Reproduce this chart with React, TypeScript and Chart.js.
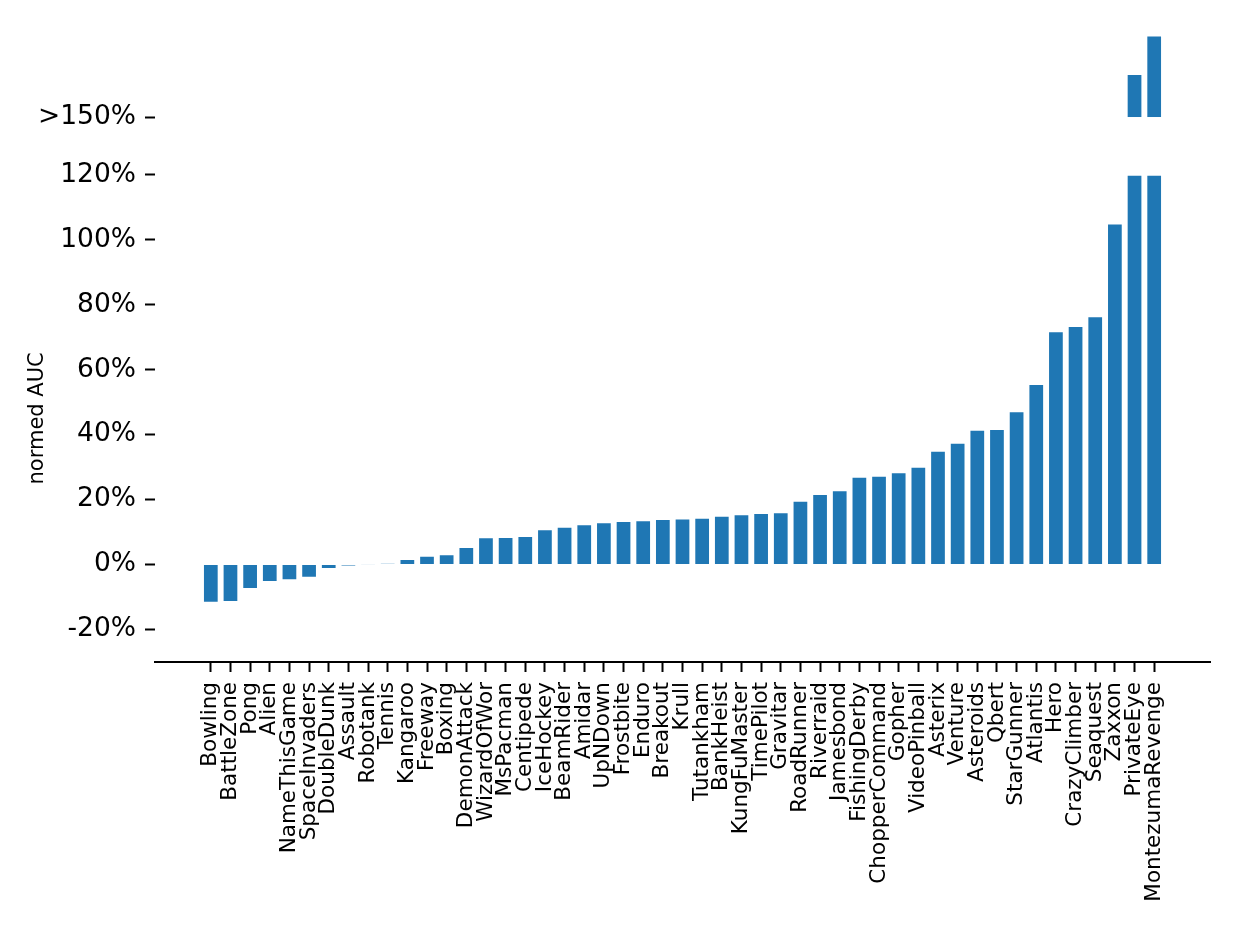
import React, { useEffect, useRef } from "react";
import { Chart, registerables } from "chart.js";

Chart.register(...registerables);

// ---- data ----
const categories: string[] = [
  "Bowling", "BattleZone", "Pong", "Alien", "NameThisGame", "SpaceInvaders",
  "DoubleDunk", "Assault", "Robotank", "Tennis", "Kangaroo", "Freeway",
  "Boxing", "DemonAttack", "WizardOfWor", "MsPacman", "Centipede", "IceHockey",
  "BeamRider", "Amidar", "UpNDown", "Frostbite", "Enduro", "Breakout", "Krull",
  "Tutankham", "BankHeist", "KungFuMaster", "TimePilot", "Gravitar",
  "RoadRunner", "Riverraid", "Jamesbond", "FishingDerby", "ChopperCommand",
  "Gopher", "VideoPinball", "Asterix", "Venture", "Asteroids", "Qbert",
  "StarGunner", "Atlantis", "Hero", "CrazyClimber", "Seaquest", "Zaxxon",
  "PrivateEye", "MontezumaRevenge",
];

// normed AUC in percent
const normedAUC: number[] = [
  -11.8, -11.5, -7.5, -5.4, -4.8, -4.1,
  -1.4, -0.5, 0.1, 0.4, 1.7, 2.7,
  3.2, 5.4, 8.4, 8.5, 8.8, 10.9,
  11.6, 12.4, 13.0, 13.4, 13.6, 14.0, 14.2,
  14.4, 15.0, 15.5, 15.9, 16.1,
  19.6, 21.7, 22.9, 27.0, 27.3,
  28.4, 30.1, 35.0, 37.5, 41.5, 41.7,
  47.2, 55.6, 71.8, 73.4, 76.4, 105.0,
  163.3, 175.2,
];

const lowerTicks: number[] = [-20, 0, 20, 40, 60, 80, 100, 120];
const lowerRange: number[] = [-30, 120];
const upperRange: number[] = [150, 175.24];
const upperTickLabel = ">150%";
const xRange: number[] = [-2.84, 50.84];

const BAR_COLOR = "#1f77b4";
const FONT = "DejaVu Sans";

export default function App() {
  const canvasRef = useRef<HTMLCanvasElement | null>(null);

  useEffect(() => {
    if (!canvasRef.current) return;

    const lowerData = normedAUC.map((v, i) => ({ x: i, y: Math.min(v, lowerRange[1]) }));
    const upperData = normedAUC
      .map((v, i) => (v > upperRange[0] ? { x: i, y: [upperRange[0], v] } : null))
      .filter((d) => d !== null);

    const barStyle = {
      backgroundColor: BAR_COLOR,
      borderColor: "rgba(255,255,255,0.4)",
      borderWidth: 1,
      grouped: false,
      barPercentage: 0.8,
      categoryPercentage: 1.0,
    };

    const tickGrid = {
      display: true,
      offset: false,
      drawOnChartArea: false,
      drawTicks: true,
      tickLength: 10,
      tickColor: "#000",
      tickWidth: 2,
    };

    const chart = new Chart(canvasRef.current, {
      type: "bar",
      data: {
        datasets: [
          { label: "lower", data: lowerData as any, yAxisID: "y", ...barStyle } as any,
          { label: "upper", data: upperData as any, yAxisID: "yUpper", ...barStyle } as any,
        ],
      },
      options: {
        animation: false,
        responsive: true,
        maintainAspectRatio: false,
        layout: { padding: { top: 27.3, right: 27, bottom: 0, left: 0 } },
        plugins: {
          legend: { display: false },
          tooltip: { enabled: false },
        },
        scales: {
          x: {
            type: "linear",
            position: "bottom",
            offset: false,
            min: xRange[0],
            max: xRange[1],
            bounds: "data",
            afterBuildTicks: (s: any) => {
              s.ticks = categories.map((_, i) => ({ value: i }));
            },
            afterFit: (s: any) => {
              s.height = 264;
            },
            ticks: {
              autoSkip: false,
              maxRotation: 90,
              minRotation: 90,
              padding: 10,
              color: "#000",
              font: { family: FONT, size: 21.5 },
              callback: (v: any) => categories[v] ?? "",
            },
            grid: tickGrid,
            border: { display: true, color: "#000", width: 2 },
          },
          yUpper: {
            type: "linear",
            position: "left",
            stack: "ybreak",
            stackWeight: 82,
            weight: 3,
            min: upperRange[0],
            max: upperRange[1],
            afterBuildTicks: (s: any) => {
              s.ticks = [{ value: upperRange[0] }];
            },
            afterFit: (s: any) => {
              s.width = 147;
            },
            ticks: {
              padding: 9,
              color: "#000",
              font: { family: FONT, size: 26.5 },
              callback: () => upperTickLabel,
            },
            grid: tickGrid,
            border: { display: false },
          },
          yGap: {
            type: "linear",
            position: "left",
            stack: "ybreak",
            stackWeight: 57.4,
            weight: 2,
            min: 0,
            max: 1,
            afterFit: (s: any) => {
              s.width = 147;
            },
            ticks: { display: false },
            grid: { display: false },
            border: { display: false },
          },
          y: {
            type: "linear",
            position: "left",
            stack: "ybreak",
            stackWeight: 487.3,
            weight: 1,
            min: lowerRange[0],
            max: lowerRange[1],
            afterBuildTicks: (s: any) => {
              s.ticks = lowerTicks.map((v) => ({ value: v }));
            },
            afterFit: (s: any) => {
              s.width = 147;
            },
            ticks: {
              padding: 9,
              color: "#000",
              font: { family: FONT, size: 26.5 },
              callback: (v: any) => `${v}%`,
            },
            title: {
              display: true,
              text: "normed AUC",
              color: "#000",
              font: { family: FONT, size: 21 },
              padding: { top: 17, bottom: 0 },
            },
            grid: tickGrid,
            border: { display: false },
          },
        },
      } as any,
    });

    return () => {
      chart.destroy();
    };
  }, []);

  return (
    <div style={{ position: "relative", width: 1229, height: 918 }}>
      <canvas ref={canvasRef} />
    </div>
  );
}
